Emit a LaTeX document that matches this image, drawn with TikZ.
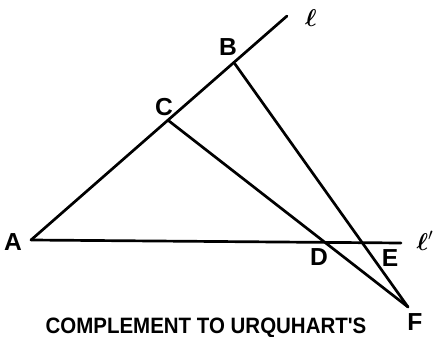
\documentclass[tikz,border=0pt]{standalone}
\usepackage{amsmath}
\usepackage{fontspec}
\setmainfont{Liberation Sans}
\usepackage{tikz}
\usetikzlibrary{positioning, calc}

\begin{document}
\begin{tikzpicture}[x=0.03cm, y=-0.03cm,
  seg/.style={line width=2.3pt, line cap=round, line join=round},
  ptlabel/.style={font=\fontsize{21}{21}\selectfont\bfseries, inner sep=0pt},
  caption/.style={font=\fontsize{19}{19}\selectfont\bfseries, inner sep=0pt,
    anchor=base, xscale=0.92}
]
  \useasboundingbox (0,0) rectangle (437,337);

  % points of the figure
  \coordinate (A) at (31,240);
  \coordinate (C) at (169,121);
  \coordinate (B) at (235,64);
  \coordinate (lend) at (287,16);
  \coordinate (D) at (325,242);
  \coordinate (E) at (363,242.5);
  \coordinate (lpend) at (401,243);
  \coordinate (F) at (408,307);

  % line l and line l'
  \draw[seg] (A) -- (lend);
  \draw[seg] (A) -- (lpend);

  % transversals through F
  \draw[seg] (C) -- (F);
  \draw[seg] (B) -- (F);

  % labels
  \node[ptlabel] (lA) at (13,242) {A};
  \node[ptlabel] (lB) at (228,47) {B};
  \node[ptlabel] (lC) at (164,107) {C};
  \node[ptlabel] (lD) at (319,257) {D};
  \node[ptlabel] (lE) at (390,258) {E};
  \node[ptlabel, anchor=base] (lF) at (415,330) {F};
  \node[ptlabel] (ll) at (311,18) {$\boldsymbol{\ell}$};
  \node[ptlabel] (llp) at (425,241) {$\boldsymbol{\ell}'$};

  % caption along the lower edge
  \node[caption] (cap) at (206,333) {COMPLEMENT TO URQUHART\textquotesingle S};
\end{tikzpicture}
\end{document}
